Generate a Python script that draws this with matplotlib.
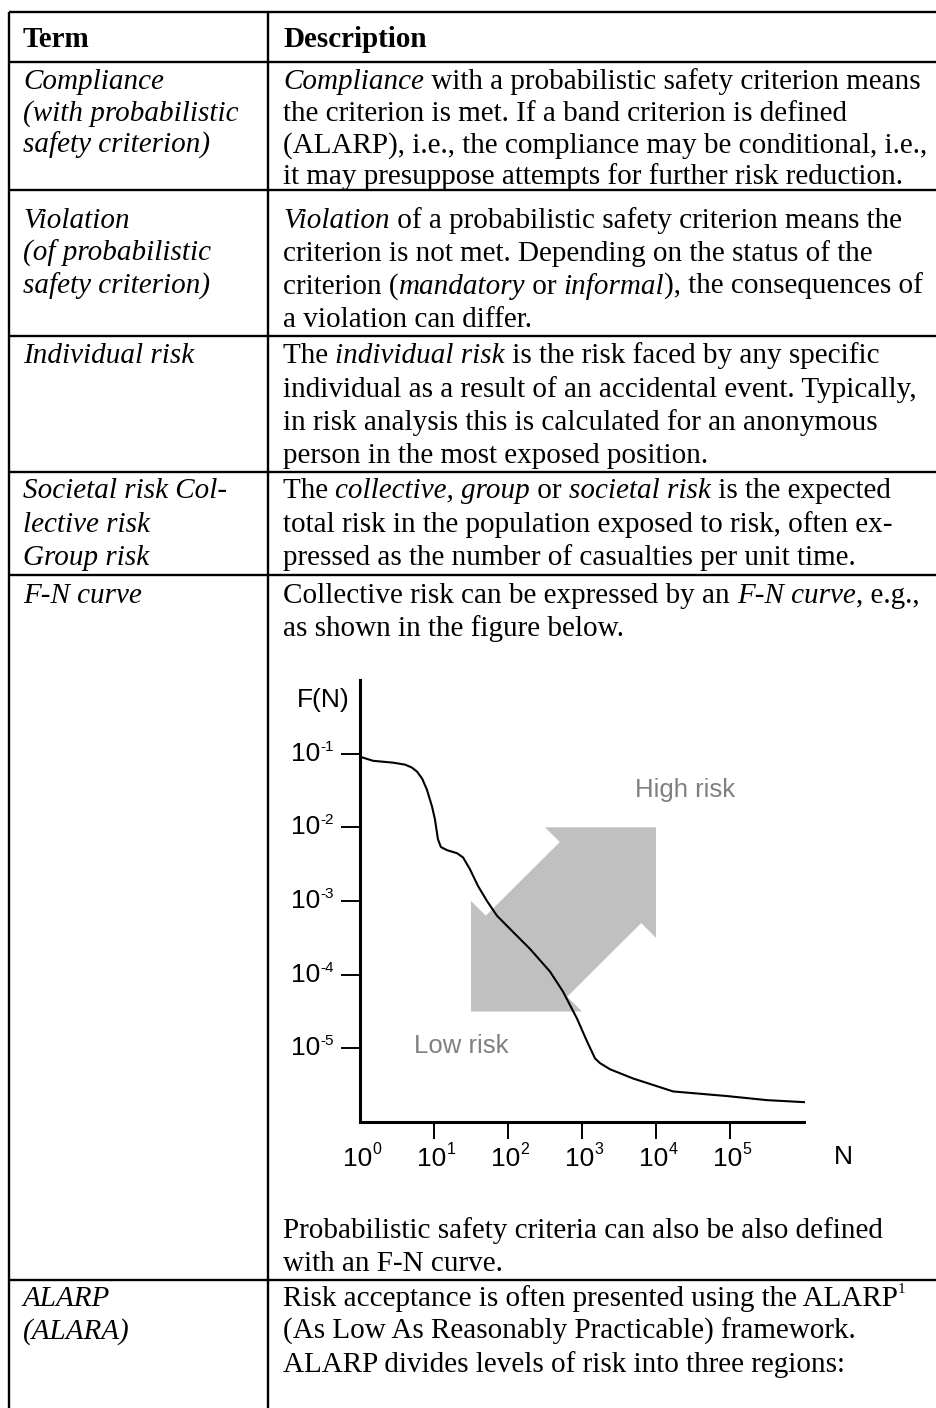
import matplotlib
matplotlib.use("Agg")
import matplotlib.pyplot as plt
from matplotlib.patches import Polygon
from matplotlib.ticker import NullLocator
from matplotlib.transforms import blended_transform_factory
import numpy as np

# F-N curve
N = [1, 1.5, 2.8, 4.06, 5.0, 5.9, 6.9, 8.0, 9.4, 10.3, 11.3, 12.4, 15.0, 20.5,
     24.7, 30.6, 39.3, 52, 71, 117, 198, 370, 553, 855, 1170, 1500, 1750, 2390,
     4890, 17000, 91000, 316000, 1000000]
F = [0.091, 0.080, 0.0755, 0.071, 0.065, 0.057, 0.046, 0.0327, 0.0192, 0.0128,
     0.0069, 0.0054, 0.0049, 0.00445, 0.0039, 0.0027, 0.0016, 0.0010, 0.00063,
     0.00038, 0.000224, 0.00011, 5.9e-5, 2.54e-5, 1.24e-5, 7.3e-6, 6.3e-6, 5.2e-6,
     3.9e-6, 2.6e-6, 2.25e-6, 1.98e-6, 1.86e-6]

x_ticks = [1e0, 1e1, 1e2, 1e3, 1e4, 1e5]
x_exps = ['0', '1', '2', '3', '4', '5']
y_ticks = [1e-1, 1e-2, 1e-3, 1e-4, 1e-5]
y_exps = ['-1', '-2', '-3', '-4', '-5']

# table text: (left column lines, right column lines)
# a line is a string, or a list of (text, style) runs
header = ("Term", "Description")
rows = [
    (["Compliance", "(with probabilistic", "safety criterion)"],
     [[("Compliance", "i"), (" with a probabilistic safety criterion means", "r")],
      "the criterion is met. If a band criterion is defined",
      "(ALARP), i.e., the compliance may be conditional, i.e.,",
      "it may presuppose attempts for further risk reduction."]),
    (["Violation", "(of probabilistic", "safety criterion)"],
     [[("Violation", "i"), (" of a probabilistic safety criterion means the", "r")],
      "criterion is not met. Depending on the status of the",
      [("criterion (", "r"), ("mandatory", "i"), (" or ", "r"), ("informal", "i"),
       ("), the consequences of", "r")],
      "a violation can differ."]),
    (["Individual risk"],
     [[("The ", "r"), ("individual risk", "i"), (" is the risk faced by any specific", "r")],
      "individual as a result of an accidental event. Typically,",
      "in risk analysis this is calculated for an anonymous",
      "person in the most exposed position."]),
    (["Societal risk Col-", "lective risk", "Group risk"],
     [[("The ", "r"), ("collective, group", "i"), (" or ", "r"), ("societal risk", "i"),
       (" is the expected", "r")],
      "total risk in the population exposed to risk, often ex-",
      "pressed as the number of casualties per unit time."]),
    (["F-N curve"],
     [[("Collective risk can be expressed by an ", "r"), ("F-N curve", "i"), (", e.g.,", "r")],
      "as shown in the figure below.",
      "Probabilistic safety criteria can also be also defined",
      "with an F-N curve."]),
    (["ALARP", "(ALARA)"],
     [[("Risk acceptance is often presented using the ALARP", "r"), ("1", "sup")],
      "(As Low As Reasonably Practicable) framework.",
      "ALARP divides levels of risk into three regions:"]),
]

# layout (pixels)
W, H = 937, 1408
row_lines = [12, 62, 190, 336, 472, 575, 1280]
col_x = [9, 268]
header_base = 47
base_left = [[89, 121, 153], [228, 261, 294], [363], [498, 532, 565], [603], [1306, 1339]]
base_right = [[89, 121, 153, 184], [228, 261, 294, 327], [363, 397, 430, 463],
              [498, 532, 565], [603, 636, 1238, 1271], [1306, 1339, 1372]]
FS = 21

fig = plt.figure(figsize=(W / 100, H / 100), dpi=100)
tab = fig.add_axes([0, 0, 1, 1])
tab.set_xlim(0, W)
tab.set_ylim(H, 0)
tab.axis('off')
renderer = fig.canvas.get_renderer()

for y in row_lines:
    tab.plot([col_x[0], W], [y, y], color='black', lw=1.7, solid_capstyle='butt')
for x in col_x:
    tab.plot([x, x], [row_lines[0], H], color='black', lw=1.7, solid_capstyle='butt')


def style_kw(style):
    kw = dict(family='Liberation Serif', fontsize=FS, va='baseline', ha='left', color='black')
    if style == 'i':
        kw['style'] = 'italic'
    elif style == 'b':
        kw['weight'] = 'bold'
    elif style == 'sup':
        kw['fontsize'] = 11
    return kw


def text_width(s, kw):
    a = tab.text(0, 0, s + '|', **kw)
    b = tab.text(0, 0, '|', **kw)
    w = a.get_window_extent(renderer).width - b.get_window_extent(renderer).width
    a.remove()
    b.remove()
    return w


def draw_line(x, y, line, default='r'):
    if isinstance(line, str):
        line = [(line, default)]
    for txt, style in line:
        kw = style_kw(style)
        yy = y - 13 if style == 'sup' else y
        tab.text(x, yy, txt, **kw)
        x += text_width(txt, kw)


draw_line(23, header_base, header[0], 'b')
draw_line(283, header_base, header[1], 'b')
for (left, right), bl, br in zip(rows, base_left, base_right):
    for line, y in zip(left, bl):
        draw_line(23, y, line, 'i')
    for line, y in zip(right, br):
        draw_line(283, y, line, 'r')

# F-N chart
ax = fig.add_axes([360 / W, 1 - 1122 / H, 444 / W, 442 / H])
ax.set_xscale('log')
ax.set_yscale('log')
ax.set_xlim(1, 1e6)
ax.set_ylim(1e-6, 1)
ax.patch.set_alpha(0)

# double-headed block arrow, built in decades (log10 units)
tip_hi = np.array([4.0, -2.0])
tip_lo = np.array([1.5, -4.5])
leg, notch = 1.5, 0.2
arrow = np.array([
    tip_lo + [0, leg],
    tip_lo + [notch, leg - notch],
    tip_hi + [-leg + notch, -notch],
    tip_hi + [-leg, 0],
    tip_hi,
    tip_hi + [0, -leg],
    tip_hi + [-notch, -leg + notch],
    tip_lo + [leg - notch, notch],
    tip_lo + [leg, 0],
    tip_lo,
])
ax.add_patch(Polygon(10 ** arrow, closed=True, facecolor='#c0c0c0', edgecolor='none', zorder=1))

ax.plot(N, F, color='black', lw=1.5, zorder=3, clip_on=False, solid_joinstyle='round')

sans = 'Liberation Sans'
ax.text(2.5e4, 10 ** -1.49, "High risk", family=sans, fontsize=18.5,
        color='#808080', ha='center', va='center')
ax.text(23, 10 ** -4.97, "Low risk", family=sans, fontsize=18.5,
        color='#808080', ha='center', va='center')
ax.text(10 ** 6.53, 10 ** -6.47, "N", family=sans, fontsize=19, ha='center', va='center')
ax.text(-0.083, 0.955, "F(N)", transform=ax.transAxes, family=sans,
        fontsize=19, ha='center', va='center')

for side in ['top', 'right']:
    ax.spines[side].set_visible(False)
for side in ['left', 'bottom']:
    ax.spines[side].set_linewidth(2.2)

ax.set_xticks(x_ticks)
ax.set_yticks(y_ticks)
ax.set_xticklabels([])
ax.set_yticklabels([])
ax.xaxis.set_minor_locator(NullLocator())
ax.yaxis.set_minor_locator(NullLocator())
ax.tick_params(axis='x', length=12.2, width=1.4)
ax.tick_params(axis='y', length=13.7, width=1.4)
ax.xaxis.get_major_ticks()[0].tick1line.set_visible(False)

# power-of-ten tick labels with small raised exponents
pt = 0.72
xtr = blended_transform_factory(ax.transData, ax.transAxes)
ytr = blended_transform_factory(ax.transAxes, ax.transData)
for v, e in zip(x_ticks, x_exps):
    ax.annotate("10", (v, 0), xycoords=xtr, xytext=(-2 * pt, -25 * pt),
                textcoords='offset points', family=sans, fontsize=19, ha='center', va='top',
                annotation_clip=False)
    ax.annotate(e, (v, 0), xycoords=xtr, xytext=(12.5 * pt, -20 * pt),
                textcoords='offset points', family=sans, fontsize=11.5, ha='left', va='top',
                annotation_clip=False)
for v, e in zip(y_ticks, y_exps):
    ax.annotate("10", (0, v), xycoords=ytr, xytext=(-40 * pt, 0),
                textcoords='offset points', family=sans, fontsize=19, ha='right', va='center',
                annotation_clip=False)
    ax.annotate(e, (0, v), xycoords=ytr, xytext=(-39.5 * pt, 14 * pt),
                textcoords='offset points', family=sans, fontsize=11, ha='left', va='top',
                annotation_clip=False)

fig.savefig('out.png', dpi=100)
